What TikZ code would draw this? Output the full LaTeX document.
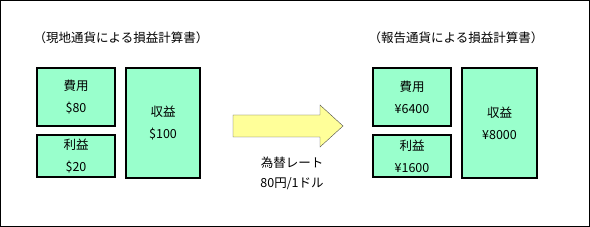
\documentclass[tikz,border=0pt]{standalone}
\usepackage{fontspec}
\setmainfont{Noto Sans CJK JP}
\usetikzlibrary{positioning}
\definecolor{mint}{RGB}{153,255,204}
\definecolor{paleyellow}{RGB}{255,255,153}

\begin{document}
\begin{tikzpicture}[x=1pt, y=-1pt,
  item/.style={draw, line width=2pt, fill=mint, align=center, inner sep=0pt,
    font=\fontsize{12.5}{22}\selectfont},
  caption/.style={font=\fontsize{12.5}{20}\selectfont, align=center, inner sep=0pt}]
\useasboundingbox (0,0) rectangle (590,227);
\draw[line width=1pt] (0.5,0.5) rectangle (589.5,226.5);

% local currency statement
\node[caption] (ltitle) at (121,38) {（現地通貨による損益計算書）};
\node[item, minimum width=78pt, minimum height=58pt] (lcost) at (76,97) {費用\\\$80};
\node[item, minimum width=78pt, minimum height=42pt] (lprofit) at (76,156) {利益\\\$20};
\node[item, minimum width=74pt, minimum height=110pt] (lrev) at (163,123) {収益\\\$100};

% exchange rate
\draw[draw=gray!60!black, fill=paleyellow] (233,115) -- (320,115) -- (320,105)
  -- (343,126) -- (320,147) -- (320,137) -- (233,137) -- cycle;
\node[caption] (rate) at (292,173) {為替レート\\80円/1ドル};

% reporting currency statement
\node[caption] (rtitle) at (456,38) {（報告通貨による損益計算書）};
\node[item, minimum width=78pt, minimum height=58pt] (rcost) at (412,97) {費用\\¥6400};
\node[item, minimum width=78pt, minimum height=42pt] (rprofit) at (412,156) {利益\\¥1600};
\node[item, minimum width=75pt, minimum height=110pt] (rrev) at (499.5,123) {収益\\¥8000};
\end{tikzpicture}
\end{document}
